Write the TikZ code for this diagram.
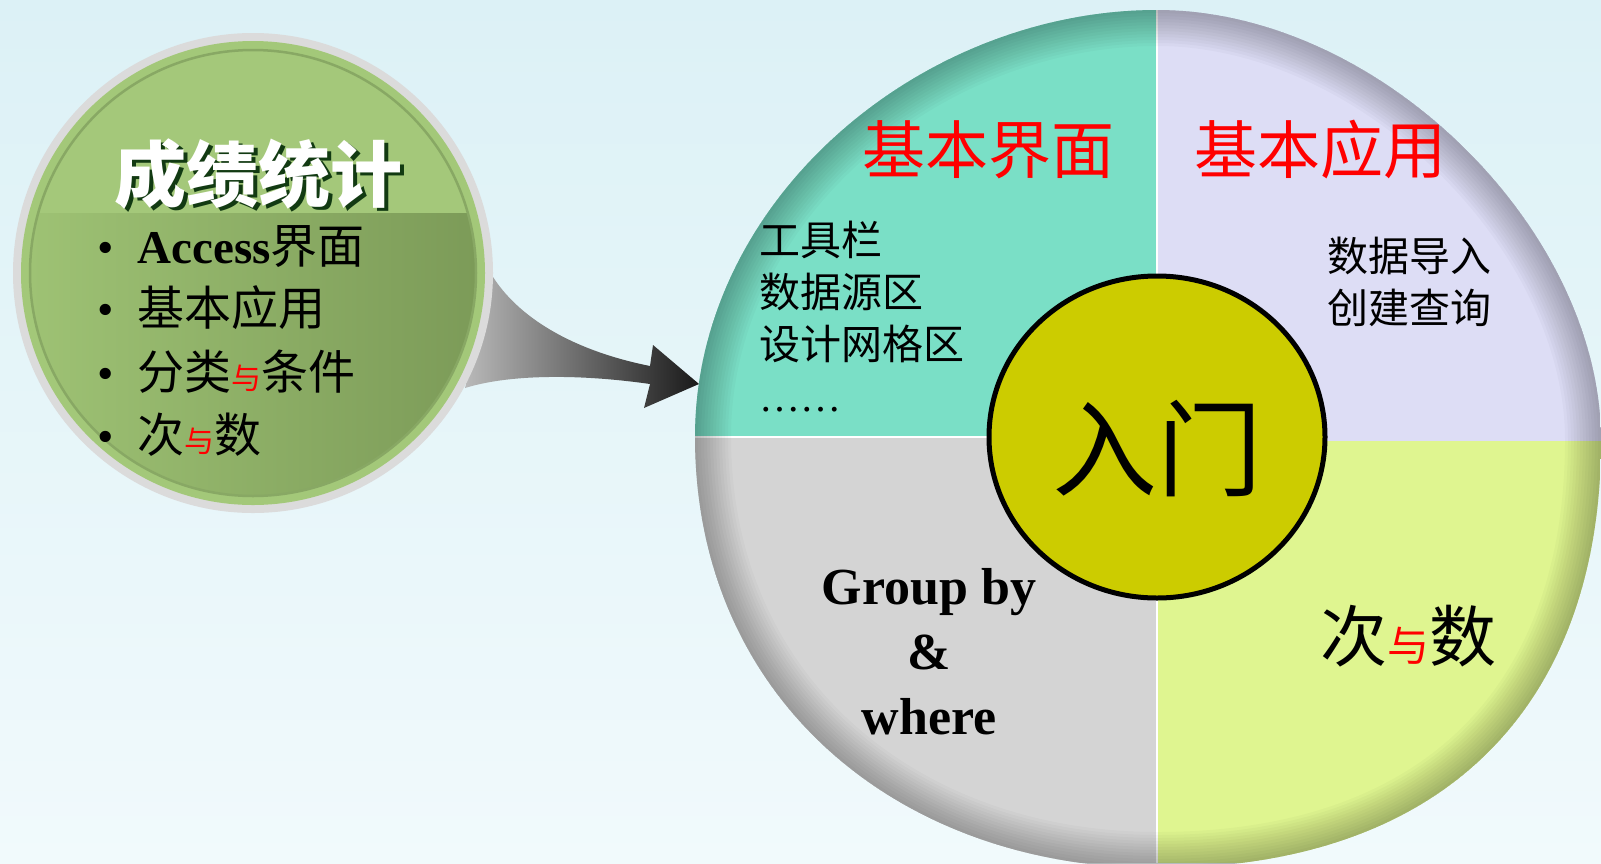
\documentclass[tikz,border=0pt]{standalone}
\usepackage{fontspec}
\setmainfont{Liberation Serif}
\newfontfamily\cjk{Noto Sans CJK SC}
\usetikzlibrary{shapes.geometric}

\definecolor{bgtop}{RGB}{220,241,246}
\definecolor{bgbottom}{RGB}{241,250,252}
\definecolor{ringgray}{RGB}{219,219,219}
\definecolor{ringgreen}{RGB}{163,200,121}
\definecolor{rimgreen}{RGB}{136,168,100}
\definecolor{leaflight}{RGB}{158,194,116}
\definecolor{leafdark}{RGB}{124,155,88}
\definecolor{bandgreen}{RGB}{164,200,122}
\definecolor{shadowgreen}{RGB}{18,58,18}
\definecolor{quadteal}{RGB}{122,223,198}
\definecolor{quadlilac}{RGB}{221,221,245}
\definecolor{quadgray}{RGB}{212,212,212}
\definecolor{quadlime}{RGB}{223,245,144}
\definecolor{hubyellow}{RGB}{204,204,0}

\newcommand{\yu}[1]{{\color{red}\fontsize{#1}{#1}\selectfont 与}}

\begin{document}
\begin{tikzpicture}[x=1pt,y=-1pt,
  redhead/.style={text=red,inner sep=0pt,font=\cjk\fontsize{63}{63}\selectfont},
  notes/.style={anchor=north west,align=left,inner sep=0pt,font=\cjk\fontsize{41}{52}\selectfont},
  topic/.style={anchor=west,inner sep=0pt,font=\cjk\fontsize{47}{47}\selectfont},
  hub/.style={ellipse,draw,line width=5pt,fill=hubyellow,minimum width=336pt,minimum height=322pt,inner sep=0pt},
]
\useasboundingbox (0,0) rectangle (1601,863);
\shade[top color=bgtop,bottom color=bgbottom] (0,0) rectangle (1601,863);

% quadrant disc
\path[save path=\discoutline]
  (1157,10) .. controls (920,10) and (695,200) .. (695,437)
  .. controls (695,700) and (900,868) .. (1157,868)
  .. controls (1450,868) and (1601,700) .. (1601,440)
  .. controls (1601,230) and (1380,10) .. (1157,10) -- cycle;
\begin{scope}
  \clip[use path=\discoutline];
  \fill[quadteal] (690,0) rectangle (1157,437);
  \fill[quadlilac] (1157,0) rectangle (1601,441);
  \fill[quadgray] (690,437) rectangle (1157,863);
  \fill[quadlime] (1157,441) rectangle (1601,863);
  \draw[white,line width=1.2pt] (1157,0) -- (1157,863);
  \draw[white,line width=1.2pt] (690,437) -- (1157,437);
  \foreach \w in {6,12,...,72}
    \draw[black,opacity=0.022,line width=\w pt,use path=\discoutline];
\end{scope}

% arrow
\coordinate (arrowtip) at (699,384);
\shade[left color=gray!55,right color=black!90]
  (493,277) .. controls (522,322) and (580,352) .. (650,366)
  -- (653,345) -- (arrowtip) -- (644,408) -- (650,384)
  .. controls (580,374) and (510,374) .. (465,388) -- cycle;

% topic circle
\fill[ringgray] (253,273) circle [radius=240];
\fill[ringgreen] (253,273) circle [radius=232];
\shade[left color=leaflight,right color=leafdark] (253,273) circle [radius=223];
\begin{scope}
  \clip (253,273) circle [radius=223];
  \fill[bandgreen] (0,0) rectangle (500,213);
\end{scope}
\draw[rimgreen,line width=2.5pt] (253,273) circle [radius=223];

\node[text=shadowgreen,font=\cjk\bfseries\fontsize{72}{72}\selectfont] (titleshade) at (262,177) {成绩统计};
\node[text=white,font=\cjk\bfseries\fontsize{72}{72}\selectfont] (title) at (258,174) {成绩统计};

\node[topic] (access) at (97,247) {\rmfamily\textbullet\hspace{24pt}\bfseries Access\cjk\mdseries 界面};
\node[topic] (basic) at (97,308) {\rmfamily\textbullet\hspace{24pt}\cjk 基本应用};
\node[topic] (group) at (97,372) {\rmfamily\textbullet\hspace{24pt}\cjk 分类\yu{30}条件};
\node[topic] (count) at (97,435) {\rmfamily\textbullet\hspace{24pt}\cjk 次\yu{30}数};

% quadrant labels
\node[redhead] (face) at (988,150) {基本界面};
\node[redhead] (apply) at (1320,150) {基本应用};
\node[notes] (facelist) at (759,221) {工具栏\\数据源区\\设计网格区\\{\rmfamily ……}};
\node[notes] (applylist) at (1327,237) {数据导入\\创建查询};
\node[align=center,inner sep=0pt,anchor=north,font=\bfseries\fontsize{52}{65}\selectfont] (sqlwords) at (929,568) {Group by\\\&\\where};
\node[font=\cjk\fontsize{67}{67}\selectfont] (ratio) at (1408,636) {次\yu{42}数};

% hub
\node[hub] (hub) at (1157,437) {};
\node[font=\cjk\fontsize{105}{105}\selectfont] (entry) at ([yshift=-12pt]hub.center) {入门};
\end{tikzpicture}
\end{document}
